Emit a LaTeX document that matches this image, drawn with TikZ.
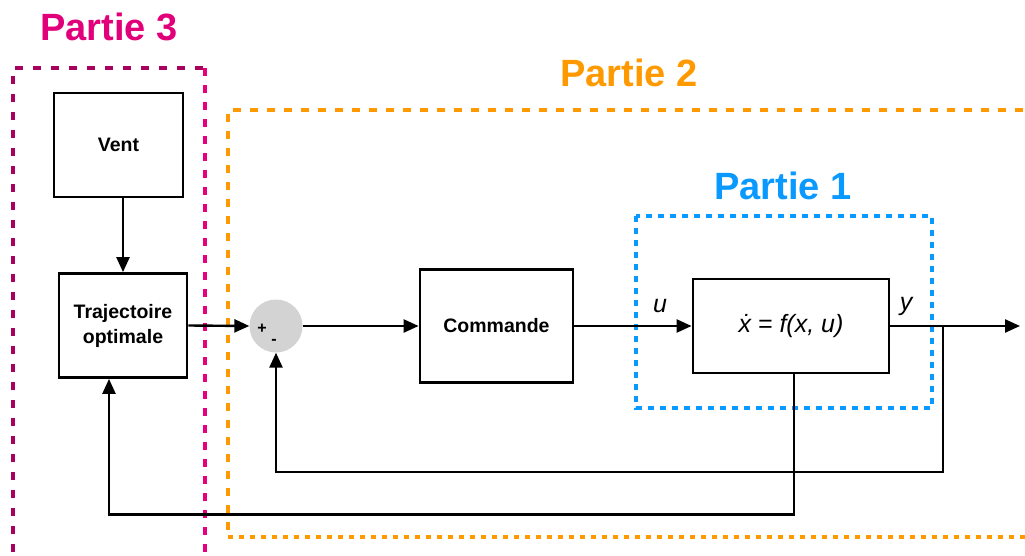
\documentclass[tikz,border=0pt]{standalone}
\usepackage{fontspec}
\setmainfont{Liberation Sans}
\usetikzlibrary{arrows.meta,calc}
\definecolor{pthreedark}{HTML}{A8005F}
\definecolor{pthreepink}{HTML}{E6007E}
\definecolor{pthreetitle}{HTML}{E2007A}
\definecolor{ptwo}{HTML}{FF9900}
\definecolor{pone}{HTML}{0A99FF}
\definecolor{sumgray}{HTML}{D3D3D3}
\tikzset{
  blockbox/.style={draw=black, line width=2.8pt, rectangle, inner sep=0pt, align=center,
     font=\fontsize{19.5}{25}\selectfont\bfseries},
  arr/.style={line width=2.4pt, -{Triangle[length=15pt,width=13pt]}},
  title/.style={font=\fontsize{38}{40}\selectfont\bfseries, inner sep=0pt},
  mathlbl/.style={font=\fontsize{25}{26}\selectfont\itshape, inner sep=0pt},
}
\begin{document}
\begin{tikzpicture}[x=1pt,y=-1pt]
\useasboundingbox (0,0) rectangle (1025,556);
% group frames
\draw[pthreedark, line width=4pt, dash pattern=on 8pt off 10pt] (13,570) -- (13,68) -- (205,68);
\draw[pthreepink, line width=4pt, dash pattern=on 8pt off 9pt] (205,68) -- (205,570);
\draw[ptwo, line width=4pt, dash pattern=on 8pt off 9pt] (1040,110) -- (228,110) -- (228,537);
\draw[ptwo, line width=4pt, dash pattern=on 5pt off 6pt] (228,537) -- (1040,537);
\draw[pone, line width=4pt, dash pattern=on 6pt off 6pt] (636,216) rectangle (932,408);
% titles
\node[title, text=pthreetitle] (t3) at (109,27) {Partie 3};
\node[title, text=ptwo] (t2) at (629,73) {Partie 2};
\node[title, text=pone] (t1) at (783,186) {Partie 1};
% blocks
\node[blockbox, minimum width=129pt, minimum height=104pt] (vent) at (118.5,145) {Vent};
\node[blockbox, minimum width=128pt, minimum height=104pt] (traj) at (123,325.5) {Trajectoire\\optimale};
\node[circle, fill=sumgray, minimum size=53pt, inner sep=0pt] (sum) at (276,326) {};
\node[font=\fontsize{16}{16}\selectfont\bfseries, inner sep=0pt] (plus) at (262,329) {+};
\node[font=\fontsize{16}{16}\selectfont\bfseries, inner sep=0pt] (minus) at (274,342) {-};
\node[blockbox, minimum width=153pt, minimum height=113pt] (cmd) at (496.5,326) {Commande};
\node[blockbox, minimum width=196pt, minimum height=94pt, font=\fontsize{25}{26}\selectfont\itshape] (plant) at (791,326) {\.{x} = f(x, u)};
\coordinate (junc) at (943,326);
\coordinate (out) at (1020,326);
% labels
\node[mathlbl] (ulbl) at (660,306) {u};
\node[mathlbl] (ylbl) at (906,306) {y};
% connectors
\draw[arr] (vent.south -| traj.north) -- (traj.north);
\draw[arr] (traj.east) -- (sum.west);
\draw[arr] (sum.east) -- (cmd.west);
\draw[arr] (cmd.east) -- (plant.west);
\draw[arr] (plant.east) -- (out);
\draw[arr] (junc) -- ++(0,146) -| (sum.south);
\draw[arr] ($(plant.south)+(3,0)$) -- ++(0,140) -| ($(traj.south)+(-14,0)$);
\end{tikzpicture}
\end{document}
